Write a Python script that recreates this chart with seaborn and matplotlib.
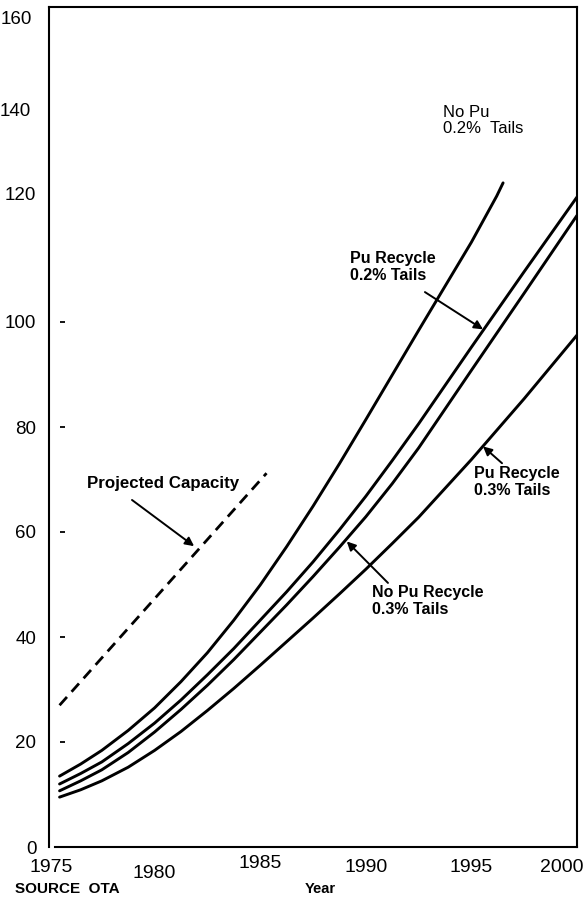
import matplotlib
matplotlib.use("Agg")
import matplotlib.pyplot as plt
import matplotlib.transforms as mtransforms
import pandas as pd
import seaborn as sns

# Separative work demand scenarios (thousand MT SWU / yr)
years = [1975.5, 1976.5, 1977.5, 1978.75, 1980, 1981.25, 1982.5, 1983.75,
         1985, 1986.25, 1987.5, 1988.75, 1990, 1991.25, 1992.5, 1995, 1997.5, 2000]
no_pu_02_years = [1975.5, 1976.5, 1977.5, 1978.75, 1980, 1981.25, 1982.5, 1983.75,
                  1985, 1986.25, 1987.5, 1988.75, 1990, 1991.25, 1992.5, 1995,
                  1996.2, 1996.5]
no_pu_02 = [13.5, 15.8, 18.4, 22.2, 26.5, 31.5, 37.0, 43.2,
            49.9, 57.2, 64.9, 73.0, 81.4, 89.9, 98.4, 115.2, 124.0, 126.5]
pu_recycle_02 = [12.0, 14.0, 16.2, 19.7, 23.6, 28.0, 32.8, 37.8,
                 43.2, 48.6, 54.3, 60.4, 66.8, 73.6, 80.6, 95.2, 109.6, 123.8]
no_pu_recycle_03 = [10.7, 12.6, 14.7, 18.0, 21.9, 26.2, 30.8, 35.7,
                    40.9, 46.1, 51.5, 57.1, 62.9, 69.2, 76.0, 90.8, 105.5, 120.3]
pu_recycle_03 = [9.5, 10.9, 12.6, 15.2, 18.4, 22.0, 26.0, 30.2,
                 34.6, 39.1, 43.6, 48.2, 52.9, 57.8, 62.8, 73.8, 85.4, 97.5]

capacity_years = [1975.5, 1985.3]
capacity = [27.0, 71.2]

x_ticks = [1975, 1980, 1985, 1990, 1995, 2000]
y_ticks = [0, 20, 40, 60, 80, 100, 120, 140, 160]
inner_ticks = [20, 40, 60, 80, 100]

sns.set_theme(style="white")
plt.rcParams["font.family"] = ["Liberation Sans", "DejaVu Sans"]

fig = plt.figure(figsize=(5.84, 9.0), dpi=100)
ax = fig.add_axes([49 / 584, 53 / 900, 528 / 584, 840 / 900])

frames = pd.concat([
    pd.DataFrame({"year": no_pu_02_years, "swu": no_pu_02, "case": "No Pu 0.2%"}),
    pd.DataFrame({"year": years, "swu": pu_recycle_02, "case": "Pu Recycle 0.2%"}),
    pd.DataFrame({"year": years, "swu": no_pu_recycle_03, "case": "No Pu Recycle 0.3%"}),
    pd.DataFrame({"year": years, "swu": pu_recycle_03, "case": "Pu Recycle 0.3%"}),
])
sns.lineplot(data=frames, x="year", y="swu", hue="case", units="case",
             estimator=None, sort=False, palette=["black"] * 4,
             linewidth=2.1, legend=False, ax=ax)

sns.lineplot(x=capacity_years, y=capacity, color="black", linewidth=2.0,
             linestyle=(0, (4.0, 2.5)), ax=ax)

ax.set_xlim(1975, 2000)
ax.set_ylim(0, 160)

for side in ["left", "right", "top", "bottom"]:
    ax.spines[side].set_visible(True)
    ax.spines[side].set_color("black")
    ax.spines[side].set_linewidth(1.5)
ax.spines["bottom"].set_bounds(1975.3, 2000)

ax.set_xticks(x_ticks)
ax.set_yticks(y_ticks)
ax.tick_params(axis="both", length=0, colors="black")
ax.tick_params(axis="y", pad=9, labelsize=13.5)
ax.tick_params(axis="x", pad=9, labelsize=14)
ax.set_xticklabels([str(t) for t in x_ticks])
ax.set_yticklabels([str(t) for t in y_ticks])
ax.set_xlabel("")
ax.set_ylabel("")

# small nudges of individual tick labels
def shift(label, dx_px, dy_px):
    off = mtransforms.ScaledTranslation(dx_px / 100, dy_px / 100, fig.dpi_scale_trans)
    label.set_transform(label.get_transform() + off)

ylabels = ax.get_yticklabels()
shift(ylabels[6], 0, 24)
shift(ylabels[7], -6, 2)
shift(ylabels[8], -4, -11)
xlabels = ax.get_xticklabels()
shift(xlabels[0], 2, 0)
shift(xlabels[1], 0, -5)
shift(xlabels[2], 0, 4)
shift(xlabels[5], -15, 0)

# short tick dashes drawn inside the frame
ytrans = ax.get_yaxis_transform()
for v in inner_ticks:
    ax.plot([0.021, 0.030], [v, v], transform=ytrans, color="black", lw=1.3,
            solid_capstyle="butt")

arrow = dict(arrowstyle="-|>", color="black", lw=1.4, mutation_scale=13,
             shrinkA=0, shrinkB=0)
bold = dict(fontsize=11.5, fontweight="bold", ha="left", va="top",
            color="black", linespacing=1.15)

ax.text(1993.66, 141.4, "No Pu\n0.2%  Tails", fontsize=12, ha="left", va="top",
        color="black", linespacing=1.15)

ax.text(1989.25, 113.5, "Pu Recycle\n0.2% Tails", **bold)
ax.annotate("", xy=(1995.55, 98.6), xytext=(1992.8, 105.7), arrowprops=arrow)

ax.text(1995.1, 72.6, "Pu Recycle\n0.3% Tails", **bold)
ax.annotate("", xy=(1995.55, 76.3), xytext=(1996.45, 73.1), arrowprops=arrow)

ax.text(1990.3, 49.9, "No Pu Recycle\n0.3% Tails", **bold)
ax.annotate("", xy=(1989.1, 58.2), xytext=(1991.05, 50.3), arrowprops=arrow)

ax.text(1976.8, 70.6, "Projected Capacity", fontsize=12.2, fontweight="bold",
        ha="left", va="top", color="black")
ax.annotate("", xy=(1981.87, 57.3), xytext=(1978.93, 66.1), arrowprops=arrow)

fig.text(15 / 584, 1 - 889 / 900, "SOURCE  OTA", fontsize=11, fontweight="bold",
         ha="left", va="center", color="black")
fig.text(320 / 584, 1 - 889 / 900, "Year", fontsize=10.5, fontweight="bold",
         ha="center", va="center", color="black")

fig.savefig("out.png", dpi=100, facecolor="white")
